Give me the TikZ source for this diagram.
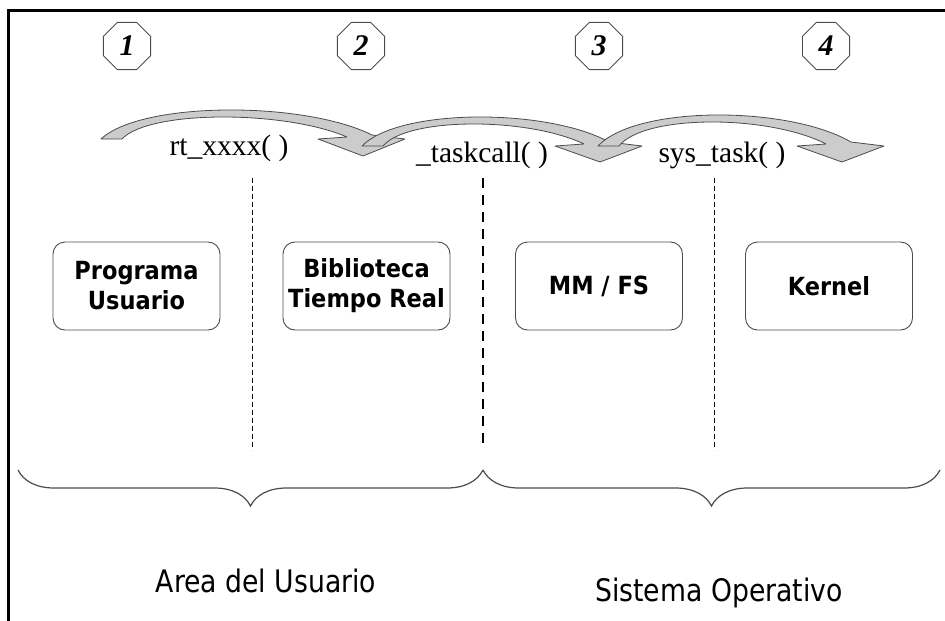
\documentclass[tikz,border=0pt]{standalone}
\usepackage{fontspec}
\setmainfont{Liberation Serif}
\newfontfamily\boxfont{DejaVu Sans}[FakeStretch=0.9]
\newfontfamily\labelfont{DejaVu Sans}[FakeStretch=0.86]
\usetikzlibrary{shapes.geometric,decorations.pathreplacing}

\definecolor{edge}{gray}{0.30}
\definecolor{band}{gray}{0.80}

\tikzset{
  stepnum/.style={regular polygon, regular polygon sides=8, minimum size=51pt,
    inner sep=0pt, draw=edge, line width=0.9pt,
    font=\fontsize{30}{30}\selectfont\bfseries\itshape},
  callname/.style={font=\fontsize{29.5}{29.5}\selectfont, anchor=base, inner sep=0pt},
  module/.style={draw=edge, rounded corners=12pt, minimum width=167pt,
    minimum height=88pt, line width=0.9pt, align=center, inner sep=0pt,
    font=\boxfont\bfseries\fontsize{25}{30}\selectfont},
  flowband/.style={fill=band, draw=edge, line width=0.8pt, line join=round},
  thinsep/.style={dash pattern=on 5pt off 3pt, line width=0.9pt},
  boldsep/.style={dash pattern=on 10pt off 7pt, line width=2.4pt},
  areabrace/.style={decorate, decoration={brace, amplitude=36pt, mirror},
    line width=1.2pt, draw=edge},
  arealabel/.style={font=\labelfont\fontsize{31}{31}\selectfont, anchor=base, inner sep=0pt},
  framerule/.style={line width=3pt, line cap=rect},
}

% curved block arrow: #1 tail x, #2 tip x, #3 peak y, #4 base y, #5 tip y
\newcommand\flowarrow[5]{%
  \pgfmathsetmacro\flA{#1}\pgfmathsetmacro\flB{#2+9}%
  \pgfmathsetmacro\flL{\flB-\flA}%
  \pgfmathsetmacro\flC{(8*#3-2*#4+4)/6}%
  \pgfmathsetmacro\flIA{#1+21}\pgfmathsetmacro\flIB{#2-16}%
  \pgfmathsetmacro\flIL{\flIB-\flIA}%
  \pgfmathsetmacro\flIC{(8*(#3+7)-2*#4+2)/6}%
  \draw[flowband] (\flA,#4)
    .. controls ({\flA+0.15*\flL},\flC) and ({\flA+0.75*\flL},\flC) .. (\flB,{#4-4})
    -- ({#2+42},#4) -- (#2,#5) -- ({#2-45},#4) -- (\flIB,{#4-2})
    .. controls ({\flIA+0.72*\flIL},\flIC) and ({\flIA+0.12*\flIL},\flIC) .. (\flIA,#4)
    -- cycle;
}

\begin{document}
\begin{tikzpicture}[x=1pt,y=-1pt]
  \useasboundingbox (0,0) rectangle (945,621);

  % open frame: top and left edges
  \coordinate (fbl) at (8,621);
  \coordinate (ftl) at (8,10);
  \coordinate (ftr) at (945,10);
  \draw[framerule] (fbl) -- (ftl) -- (ftr);

  % numbered steps
  \node[stepnum] (n1) at (127,46) {1};
  \node[stepnum] (n2) at (361,46) {2};
  \node[stepnum] (n3) at (599,46) {3};
  \node[stepnum] (n4) at (826,46) {4};

  % call chain arrows
  \flowarrow{101}{363}{110}{139}{156}
  \flowarrow{362}{600}{117}{146}{162}
  \flowarrow{598}{842}{115}{146}{162}

  % call names
  \node[callname] (c1) at (229,155) {rt\_xxxx( )};
  \node[callname] (c2) at (482,162) {\_taskcall( )};
  \node[callname] (c3) at (722,162) {sys\_task( )};

  % separators
  \coordinate (s1t) at (252,178); \coordinate (s1b) at (252,450);
  \coordinate (s2t) at (483,178); \coordinate (s2b) at (483,450);
  \coordinate (s3t) at (714,178); \coordinate (s3b) at (714,450);
  \draw[thinsep] (s1t) -- (s1b);
  \draw[boldsep] (s2t) -- (s2b);
  \draw[thinsep] (s3t) -- (s3b);

  % modules
  \node[module] (m1) at (136.5,286) {Programa\\Usuario};
  \node[module] (m2) at (366.5,286) {Biblioteca\\Tiempo Real};
  \node[module] (m3) at (599,286) {MM / FS};
  \node[module] (m4) at (829,286) {Kernel};

  % areas
  \coordinate (bl) at (18,470);
  \coordinate (bm) at (483,470);
  \coordinate (br) at (940,470);
  \draw[areabrace] (bl) -- (bm);
  \draw[areabrace] (bm) -- (br);
  \node[arealabel] (a1) at (266,592) {Area del Usuario};
  \node[arealabel] (a2) at (719,601) {Sistema Operativo};
\end{tikzpicture}
\end{document}
